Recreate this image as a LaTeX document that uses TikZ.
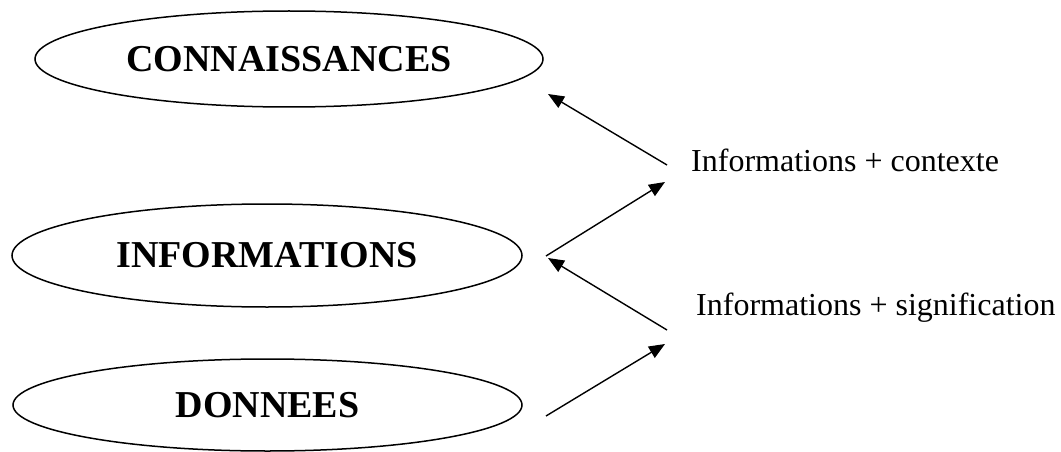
\documentclass[tikz,border=0pt]{standalone}
\usepackage{fontspec}
\setmainfont{Liberation Serif}
\usetikzlibrary{shapes.geometric,arrows.meta}
\tikzset{
  level/.style={draw, ellipse, line width=1.5pt, inner sep=0pt,
    font=\fontsize{38}{44}\selectfont\bfseries},
  note/.style={inner sep=0pt, anchor=base west, font=\fontsize{32}{38}\selectfont},
  link/.style={line width=1.4pt, -{Triangle[length=16pt,width=13pt]}}
}
\begin{document}
\begin{tikzpicture}[x=1pt,y=-1pt]
\useasboundingbox (0,0) rectangle (1061,452);
\node[level, minimum width=508pt, minimum height=96pt] (conn) at (289,59) {CONNAISSANCES};
\node[level, minimum width=510pt, minimum height=103pt] (info) at (267,255.5) {INFORMATIONS};
\node[level, minimum width=509pt, minimum height=92pt] (donn) at (267.5,405) {DONNEES};
\node[note] (ctx) at (691,171) {Informations + contexte};
\node[note] (sig) at (696,315) {Informations + signification};
\coordinate (a1s) at (667,165);
\coordinate (a1e) at (548,94);
\coordinate (a2s) at (546,256);
\coordinate (a2e) at (665,182);
\coordinate (a3s) at (667,330);
\coordinate (a3e) at (548,258);
\coordinate (a4s) at (546,416);
\coordinate (a4e) at (665,344);
\draw[link] (a1s) -- (a1e);
\draw[link] (a2s) -- (a2e);
\draw[link] (a3s) -- (a3e);
\draw[link] (a4s) -- (a4e);
\end{tikzpicture}
\end{document}
